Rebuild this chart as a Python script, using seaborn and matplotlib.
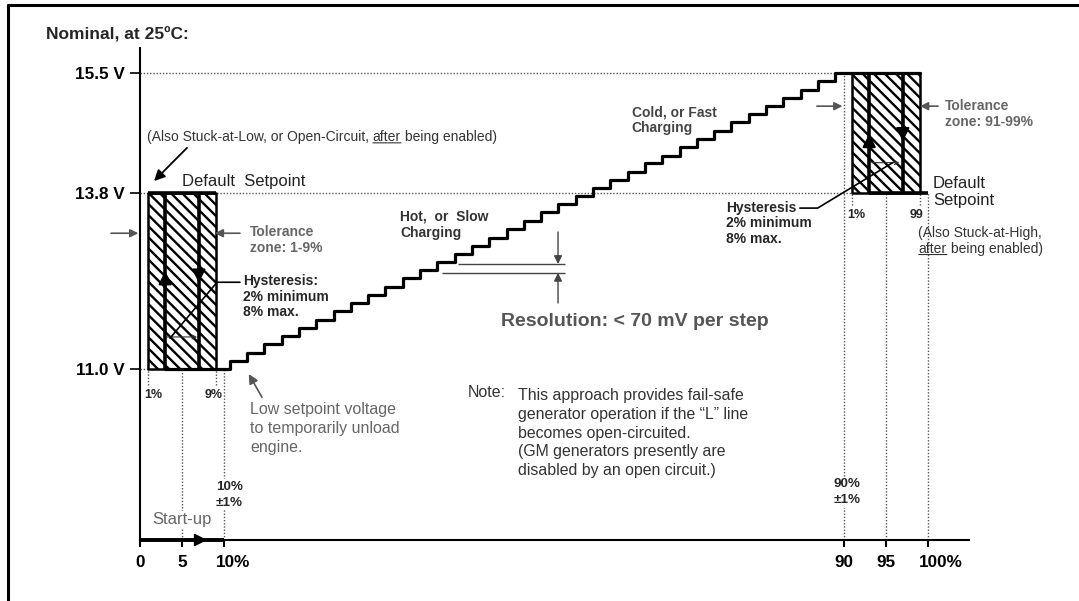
import numpy as np
import pandas as pd
import matplotlib
matplotlib.use('Agg')
import matplotlib.pyplot as plt
import matplotlib.transforms as mtransforms
from matplotlib.lines import Line2D
import seaborn as sns

# ---- values ----
v_low, v_default, v_high = 11.0, 13.8, 15.5
v_ticks = [11.0, 13.8, 15.5]
v_tick_labels = ['11.0 V', '13.8 V', '15.5 V']
duty_ticks = [0, 5, 10, 90, 95, 100]
duty_tick_labels = ['0', '5', '10%', '90', '95', '100%']

# staircase: duty cycle (%) where each step rises and the level after it (V)
step_duty = [10.8, 13.0, 15.2, 17.5, 19.7, 21.9, 24.2, 26.4, 28.6, 30.8,
             33.1, 35.3, 37.5, 39.8, 42.0, 44.2, 46.5, 48.7, 50.9, 53.1,
             55.4, 57.6, 59.8, 62.1, 64.3, 66.5, 68.8, 71.0, 73.2, 75.4,
             77.7, 79.9, 82.1, 84.4, 86.6, 88.8]
step_volts = [11.13, 11.26, 11.39, 11.52, 11.65, 11.78, 11.92, 12.05, 12.18, 12.31,
              12.44, 12.57, 12.70, 12.83, 12.96, 13.09, 13.22, 13.35, 13.49, 13.62,
              13.75, 13.87, 13.98, 14.10, 14.22, 14.33, 14.45, 14.57, 14.68, 14.80,
              14.92, 15.03, 15.15, 15.26, 15.38, 15.50]
stair_start = 3.0
stair_end = 99.0

low_zone = [1, 9]      # tolerance zone 1-9 %
low_hyst = [3, 7]
high_zone = [91, 99]   # tolerance zone 91-99 %
high_hyst = [93, 97]

# schematic (not to scale) axis spacing
duty_knots = [-50, 0, 10, 90, 100, 150]
duty_pos = [-420, 0, 84, 704, 788, 1208]
volt_knots = [0, 11.0, 13.8, 15.5, 25]
volt_pos = [-520.5, 171, 347, 467, 1137.7]


def fx(v):
    return np.interp(v, duty_knots, duty_pos)


def ix(p):
    return np.interp(p, duty_pos, duty_knots)


def fy(v):
    return np.interp(v, volt_knots, volt_pos)


def iy(p):
    return np.interp(p, volt_pos, volt_knots)


sns.set_theme(style='ticks')
plt.rcParams['font.family'] = ['Liberation Sans', 'DejaVu Sans']
plt.rcParams['hatch.linewidth'] = 1.7

fig = plt.figure(figsize=(10.79, 6.01), dpi=100)
ax = fig.add_axes([140 / 1079, 61 / 601, 829 / 1079, 492 / 601])
ax.set_xscale('function', functions=(fx, ix))
ax.set_yscale('function', functions=(fy, iy))
x_hi = float(ix(829))
y_lo, y_hi = float(iy(0)), float(iy(492))
ax.set_xlim(0, x_hi)
ax.set_ylim(y_lo, y_hi)
sns.despine(ax=ax)
for s in ['left', 'bottom']:
    ax.spines[s].set_linewidth(1.5)
    ax.spines[s].set_color('black')

dot = dict(color='#555555', lw=1.0, linestyle=(0, (1, 1.3)), zorder=1)
ax.hlines([v_high, v_default], 0, high_zone[0], **dot)
ax.hlines(v_low, 0, low_zone[0], **dot)
ax.vlines([5, 10], y_lo, v_low, **dot)
ax.vlines(low_zone, 10.75, v_low, **dot)
ax.vlines(90, y_lo, v_high, **dot)
ax.vlines([95, 100], y_lo, v_default, **dot)
ax.vlines(high_zone, 13.61, v_default, **dot)

# hatched tolerance zones
for zone, lo, hi in [(low_zone, v_low, v_default), (high_zone, v_default, v_high)]:
    ax.fill_between(zone, lo, hi, facecolor='white', edgecolor='black',
                    hatch='\\\\\\', linewidth=1.8, zorder=2)

# regulator setpoint path
stair = pd.DataFrame({'duty': [stair_start] + step_duty + [stair_end],
                      'volts': [v_low] + step_volts + [v_high]})
sns.lineplot(data=stair, x='duty', y='volts', drawstyle='steps-post',
             color='black', linewidth=2.3, ax=ax, zorder=4)
ax.hlines(v_default, low_zone[0], low_zone[1], color='black', lw=2.6, zorder=4)
ax.vlines(low_hyst, v_low, v_default, color='black', lw=2.6, zorder=4)
ax.vlines(high_hyst, v_default, v_high, color='black', lw=2.6, zorder=4)
ax.hlines(v_default, high_hyst[0], 100, color='black', lw=2.6, zorder=4)
ax.set_xlabel('')
ax.set_ylabel('')

no_clip = dict(annotation_clip=False)


def arrow(tail, head, color='black', lw=1.2, ms=12, style='-|>'):
    ax.annotate('', xy=head, xytext=tail, zorder=5,
                arrowprops=dict(arrowstyle=style, color=color, lw=lw,
                                mutation_scale=ms, shrinkA=0, shrinkB=0),
                **no_clip)


# hysteresis direction arrows
arrow((3, 12.2), (3, 12.56), lw=1.5, ms=20)
arrow((7, 12.75), (7, 12.37), lw=1.5, ms=20)
arrow((93, 14.3), (93, 14.64), lw=1.5, ms=20)
arrow((97, 14.9), (97, 14.53), lw=1.5, ms=20)
arrow((3.2, 11.51), (6.8, 11.51), color='#333333', lw=0.8, ms=7, style='->')
arrow((93.3, 14.23), (96.6, 14.23), color='#333333', lw=0.8, ms=7, style='->')

# hysteresis leaders
ax.plot([12.06, 9.17, 3.57], [12.38, 12.38, 11.49], color='black', lw=1.2, zorder=5)
ax.plot([84.3, 86.6, 95.8], [13.56, 13.56, 14.23], color='black', lw=1.2, zorder=5)

# tolerance arrows
arrow((-3.45, 13.16), (-0.2, 13.16), color='#555555', lw=1.2, ms=12)
arrow((12.06, 13.16), (8.9, 13.16), color='#555555', lw=1.2, ms=12)
arrow((86.5, 15.03), (89.8, 15.03), color='#555555', lw=1.2, ms=12)
arrow((101.2, 15.03), (99.05, 15.03), color='#555555', lw=1.2, ms=12)

# resolution marker
ax.hlines(12.67, 40.2, 54.0, color='#444444', lw=1.0)
ax.hlines(12.53, 38.1, 54.0, color='#444444', lw=1.0)
arrow((53.1, 13.18), (53.1, 12.67), color='#444444', lw=1.0, ms=12)
arrow((53.1, 12.05), (53.1, 12.53), color='#444444', lw=1.0, ms=12)

# other pointers
arrow((5.6, 14.44), (1.67, 13.97), lw=1.3, ms=16)
arrow((14.9, 10.55), (13.2, 10.92), color='#555555', lw=1.2, ms=14)

# start-up arrow along the axis
ax.hlines(y_lo, 0, 10, color='black', lw=2.8, clip_on=False, zorder=5)
arrow((5.5, y_lo), (8.0, y_lo), lw=1, ms=20)

# ---- axes ticks ----
ax.set_yticks(v_ticks, v_tick_labels, fontsize=12.3, fontweight='bold')
ax.set_xticks(duty_ticks, duty_tick_labels, fontsize=12.3, fontweight='bold')
ax.tick_params(axis='x', direction='out', length=5, width=1.5, pad=6, colors='black')
ax.tick_params(axis='y', direction='out', length=7, width=1.2, pad=4, colors='black')
ax.minorticks_off()
for lbl in ax.get_xticklabels():
    txt = lbl.get_text()
    if txt.endswith('%'):
        dx = 9 if len(txt) == 3 else 13
        lbl.set_transform(lbl.get_transform() +
                          mtransforms.ScaledTranslation(dx / 100, 0, fig.dpi_scale_trans))

# ---- text ----
ax.text(-11.2, 16.05, 'Nominal, at 25ºC:', fontsize=12.5, fontweight='bold', va='center')


def underlined(x, y, before, word, after, **kw):
    if before:
        t0 = ax.text(x, y, before, va='center', **kw)
        t1 = ax.annotate(word, xy=(1, 0), xycoords=t0, xytext=(2.8, 0),
                         textcoords='offset points', va='bottom', **kw)
    else:
        t1 = ax.text(x, y, word, va='center', **kw)
    ax.annotate('', xy=(0, 0.1), xycoords=t1, xytext=(1, 0.1), textcoords=t1,
                arrowprops=dict(arrowstyle='-', color=kw.get('color', 'black'),
                                lw=0.8, shrinkA=0, shrinkB=0))
    ax.annotate(after, xy=(1, 0), xycoords=t1, xytext=(2.8, 0),
                textcoords='offset points', va='bottom', **kw)


underlined(0.83, 14.59, '(Also Stuck-at-Low, or Open-Circuit,', 'after',
           'being enabled)', fontsize=10, color='#333333')
ax.text(98.8, 13.16, '(Also Stuck-at-High,', fontsize=10, color='#333333', va='center')
underlined(98.9, 12.91, '', 'after', 'being enabled)', fontsize=10, color='#333333')

ax.text(5.0, 13.96, 'Default  Setpoint', fontsize=12, color='#222222', va='center')
ax.text(100.6, 13.81, 'Default\nSetpoint', fontsize=12, color='#222222',
        va='center', linespacing=1.2)

ax.text(13.35, 13.05, 'Tolerance\nzone: 1-9%', fontsize=10, fontweight='bold',
        color='#666666', va='center', linespacing=1.2)
ax.text(102.0, 14.92, 'Tolerance\nzone: 91-99%', fontsize=10, fontweight='bold',
        color='#666666', va='center', linespacing=1.2)

ax.text(12.45, 12.15, 'Hysteresis:\n2% minimum\n8% max.', fontsize=10,
        fontweight='bold', va='center', linespacing=1.15)
ax.text(74.8, 13.32, 'Hysteresis\n2% minimum\n8% max.', fontsize=10,
        fontweight='bold', va='center', linespacing=1.15)

small = dict(fontsize=9, fontweight='bold', ha='center', va='center')
ax.text(1.6, 10.59, '1%', **small)
ax.text(8.8, 10.59, '9%', **small)
ax.text(91.5, 13.45, '1%', **small)
ax.text(98.6, 13.45, '99', **small)

ax.text(32.7, 13.29, 'Hot,  or  Slow\nCharging', fontsize=10, fontweight='bold',
        color='#333333', va='center', linespacing=1.2)
ax.text(62.6, 14.83, 'Cold, or Fast\nCharging', fontsize=10, fontweight='bold',
        color='#444444', va='center', linespacing=1.2)

ax.text(63.0, 11.75, 'Resolution: < 70 mV per step', fontsize=14, fontweight='bold',
        color='#555555', ha='center', va='center')

ax.text(13.35, 10.05, 'Low setpoint voltage\nto temporarily unload\nengine.',
        fontsize=11.5, color='#666666', va='center', linespacing=1.33)

ax.text(41.4, 10.62, 'Note:', fontsize=11.5, color='#333333', va='center')
ax.text(47.9, 9.98, 'This approach provides fail-safe\n'
        'generator operation if the “L” line\n'
        'becomes open-circuited.\n'
        '(GM generators presently are\n'
        'disabled by an open circuit.)',
        fontsize=11.4, color='#333333', va='center', linespacing=1.32)

box = dict(facecolor='white', edgecolor='none', pad=1)
ax.text(9.05, 9.0, '10%\n±1%', fontsize=9.7, fontweight='bold', va='center',
        linespacing=1.45, bbox=box, zorder=3)
ax.text(88.6, 9.04, '90%\n±1%', fontsize=9.7, fontweight='bold', va='center',
        linespacing=1.45, bbox=box, zorder=3)
ax.text(1.43, 8.60, 'Start-up', fontsize=12, color='#666666', va='center',
        bbox=box, zorder=3)

# page frame (left and top edges)
fig.add_artist(Line2D([8 / 1079, 8 / 1079], [0, 1 - 5 / 601],
                      transform=fig.transFigure, color='black', lw=2.2))
fig.add_artist(Line2D([8 / 1079, 1], [1 - 5 / 601, 1 - 5 / 601],
                      transform=fig.transFigure, color='black', lw=2.2))

fig.savefig('out.png', dpi=100)
